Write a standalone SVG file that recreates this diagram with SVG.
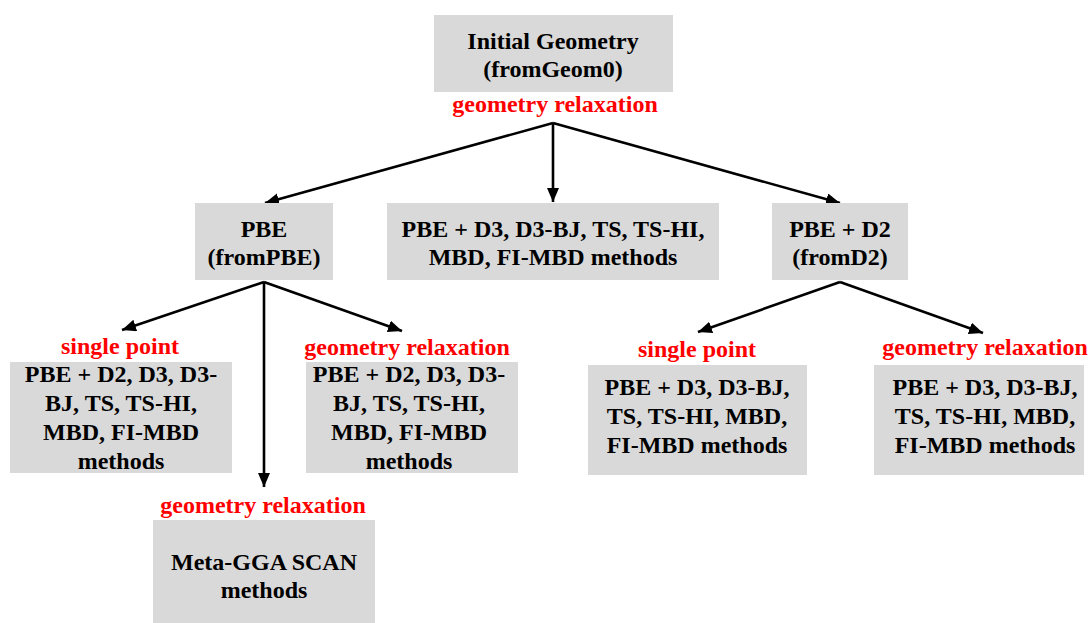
<svg xmlns="http://www.w3.org/2000/svg" width="1088" height="623" viewBox="0 0 1088 623">
<style>
.box{fill:#d9d9d9;}
.t{font-family:"Liberation Serif","Times New Roman",serif;font-weight:bold;font-size:24px;fill:#000;text-anchor:middle;}
.r{font-family:"Liberation Serif","Times New Roman",serif;font-weight:bold;font-size:24px;fill:#ff0000;text-anchor:middle;}
.c{stroke:#000;stroke-width:2.6;fill:none;marker-end:url(#ah);}
</style>
<defs>
<marker id="ah" markerUnits="userSpaceOnUse" markerWidth="16" markerHeight="14" refX="14" refY="6" orient="auto">
<path d="M0,0 L14,6 L0,12 Z" fill="#000"/>
</marker>
</defs>
<rect width="1088" height="623" fill="#fff"/>
<g id="connectors">
<line class="c" x1="553" y1="123" x2="265" y2="203"/>
<line class="c" x1="553" y1="123" x2="553" y2="202"/>
<line class="c" x1="553" y1="123" x2="840" y2="203"/>
<line class="c" x1="264" y1="282" x2="122" y2="330"/>
<line class="c" x1="264" y1="282" x2="264" y2="487"/>
<line class="c" x1="264" y1="282" x2="402" y2="331"/>
<line class="c" x1="840" y1="282" x2="698" y2="332"/>
<line class="c" x1="840" y1="282" x2="983" y2="333"/>
</g>
<g id="n-initial">
<rect class="box" x="434" y="15" width="239" height="77"/>
<text class="t" x="553" y="49">Initial Geometry</text>
<text class="t" x="553" y="77">(fromGeom0)</text>
</g>
<text class="r" x="555" y="112">geometry relaxation</text>
<g id="n-pbe">
<rect class="box" x="195" y="203" width="138" height="77"/>
<text class="t" x="264" y="237">PBE</text>
<text class="t" x="264" y="265">(fromPBE)</text>
</g>
<g id="n-center">
<rect class="box" x="387" y="203" width="332" height="77"/>
<text class="t" x="553" y="237">PBE + D3, D3-BJ, TS, TS-HI,</text>
<text class="t" x="553" y="265">MBD, FI-MBD methods</text>
</g>
<g id="n-d2">
<rect class="box" x="772" y="203" width="136" height="77"/>
<text class="t" x="840" y="237">PBE + D2</text>
<text class="t" x="840" y="265">(fromD2)</text>
</g>
<text class="r" x="120" y="354">single point</text>
<g id="n-sp1">
<rect class="box" x="10" y="362" width="222" height="111"/>
<text class="t" x="121" y="382">PBE + D2, D3, D3-</text>
<text class="t" x="121" y="411">BJ, TS, TS-HI,</text>
<text class="t" x="121" y="440">MBD, FI-MBD</text>
<text class="t" x="121" y="469">methods</text>
</g>
<text class="r" x="407" y="355">geometry relaxation</text>
<g id="n-gr1">
<rect class="box" x="306" y="362" width="212" height="111"/>
<text class="t" x="409" y="382">PBE + D2, D3, D3-</text>
<text class="t" x="409" y="411">BJ, TS, TS-HI,</text>
<text class="t" x="409" y="440">MBD, FI-MBD</text>
<text class="t" x="409" y="469">methods</text>
</g>
<text class="r" x="263" y="513">geometry relaxation</text>
<g id="n-scan">
<rect class="box" x="153" y="520" width="222" height="103"/>
<text class="t" x="264" y="570">Meta-GGA SCAN</text>
<text class="t" x="264" y="598">methods</text>
</g>
<text class="r" x="697" y="357">single point</text>
<g id="n-sp2">
<rect class="box" x="588" y="365" width="219" height="110"/>
<text class="t" x="697" y="395">PBE + D3, D3-BJ,</text>
<text class="t" x="697" y="424">TS, TS-HI, MBD,</text>
<text class="t" x="697" y="453">FI-MBD methods</text>
</g>
<text class="r" x="985" y="355">geometry relaxation</text>
<g id="n-gr2">
<rect class="box" x="874" y="365" width="210" height="110"/>
<text class="t" x="985" y="395">PBE + D3, D3-BJ,</text>
<text class="t" x="985" y="424">TS, TS-HI, MBD,</text>
<text class="t" x="985" y="453">FI-MBD methods</text>
</g>
</svg>
